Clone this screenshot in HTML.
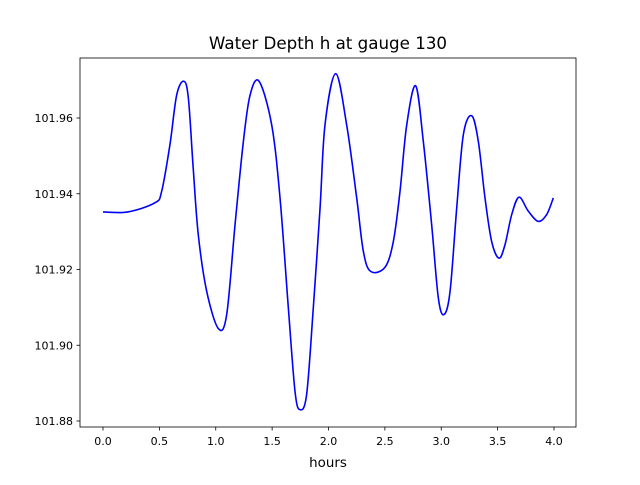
<!DOCTYPE html>
<html><head><meta charset="utf-8"><style>
body{margin:0;background:#fff}
svg text{font-family:"DejaVu Sans","Liberation Sans",sans-serif;fill:#000}
</style></head><body>
<svg id="chart" width="640" height="480" viewBox="0 0 640 480">
<rect width="640" height="480" fill="#fff"/>
<text x="328" y="49" font-size="16.7" text-anchor="middle">Water Depth h at gauge 130</text>
<g id="xticks"></g>
<g id="yticks"></g>
<path id="line" fill="none" stroke="#0000ff" stroke-width="1.6"/>
<rect x="80" y="58" width="496" height="369" fill="none" stroke="#000" stroke-width="0.8"/>
<text x="328" y="467" font-size="13.4" text-anchor="middle">hours</text>
</svg>
<script>
const hours=[0,0.22,0.46,0.52,0.594,0.653,0.716,0.757,0.80,0.845,0.92,1.023,1.097,1.171,1.245,1.304,1.384,1.496,1.570,1.644,1.703,1.747,1.806,1.865,1.925,1.969,2.064,2.161,2.25,2.309,2.374,2.501,2.575,2.634,2.693,2.773,2.841,2.915,2.974,3.024,3.078,3.137,3.196,3.27,3.329,3.388,3.447,3.512,3.565,3.625,3.69,3.772,3.861,3.935,3.994];
const depth=[101.9352,101.9352,101.9376,101.9406,101.953,101.966,101.9697,101.9653,101.9468,101.9292,101.9142,101.9044,101.9081,101.9318,101.9538,101.966,101.9697,101.9582,101.9389,101.9098,101.8878,101.8830,101.887,101.9098,101.9362,101.9582,101.9717,101.9582,101.9389,101.9248,101.9195,101.9206,101.9274,101.9406,101.958,101.9685,101.9538,101.9318,101.9125,101.9081,101.9142,101.9362,101.9556,101.9606,101.9538,101.9389,101.9274,101.923,101.9265,101.9345,101.9391,101.9354,101.9327,101.9345,101.9389];
const xTicks=[0,0.5,1,1.5,2,2.5,3,3.5,4];
const yTicks=[101.88,101.90,101.92,101.94,101.96];
const X=t=>103+t*112.75;
const Y=v=>421-(v-101.88)*3787.5;
const NS="http://www.w3.org/2000/svg";
function mk(tag,attrs,parent){const e=document.createElementNS(NS,tag);for(const k in attrs)e.setAttribute(k,attrs[k]);parent.appendChild(e);return e;}
const xg=document.getElementById('xticks'),yg=document.getElementById('yticks');
xTicks.forEach(t=>{
 const l=mk('line',{x1:X(t),x2:X(t),y1:427,y2:430.5,stroke:'#000','stroke-width':0.8},xg);
 
 
 const tx=mk('text',{x:X(t),y:445,'font-size':11,'text-anchor':'middle'},xg);
 tx.textContent=t.toFixed(1);
 
 
});
yTicks.forEach(v=>{
 const l=mk('line',{x1:76.5,x2:80,y1:Y(v),y2:Y(v),stroke:'#000','stroke-width':0.8},yg);
 
 
 const tx=mk('text',{x:73,y:Y(v)+4,'font-size':11,'text-anchor':'end'},yg);
 tx.textContent=v.toFixed(2);
 
 
});
const P=hours.map((t,i)=>[X(t),Y(depth[i])]);
let d='M'+P[0][0]+','+P[0][1];
for(let i=0;i<P.length-1;i++){
 const p0=P[Math.max(0,i-1)],p1=P[i],p2=P[i+1],p3=P[Math.min(P.length-1,i+2)];
 const c1=[p1[0]+(p2[0]-p0[0])/6,p1[1]+(p2[1]-p0[1])/6];
 const c2=[p2[0]-(p3[0]-p1[0])/6,p2[1]-(p3[1]-p1[1])/6];
 d+=` C${c1[0]},${c1[1]} ${c2[0]},${c2[1]} ${p2[0]},${p2[1]}`;
}
document.getElementById('line').setAttribute('d',d);
</script>
</body></html>
